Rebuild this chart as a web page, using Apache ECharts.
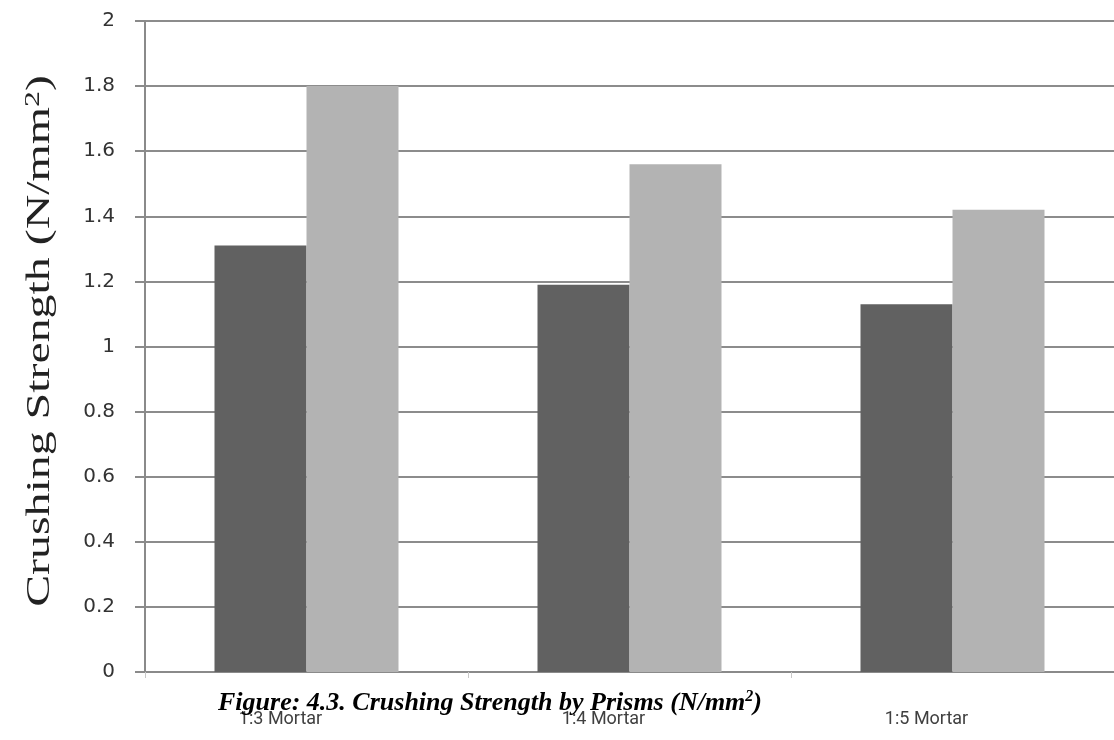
<!DOCTYPE html>
<html><head><meta charset="utf-8">
<script src="https://cdn.jsdelivr.net/npm/echarts@6/dist/echarts.min.js"></script>
<style>html,body{margin:0;padding:0;background:#fff}#c{width:1114px;height:740px}</style>
</head><body><div id="c"></div>
<script>
const categories = ['1:3 Mortar', '1:4 Mortar', '1:5 Mortar'];
const seriesA = [1.31, 1.19, 1.13];
const seriesB = [1.80, 1.56, 1.42];
const yTicks = { min: 0, max: 2, interval: 0.2 };
const yName = 'Crushing Strength (N/mm{sup|2})';
const caption = 'Figure: 4.3. Crushing Strength by Prisms (N/mm{sup|2})';

const chart = echarts.init(document.getElementById('c'), null, { renderer: 'canvas' });
chart.setOption({
  backgroundColor: '#fff',
  animation: false,
  title: {
    text: caption,
    left: 213, top: 684,
    textStyle: {
      fontFamily: 'Liberation Serif', fontStyle: 'italic', fontWeight: 'bold',
      fontSize: 26, color: '#000',
      rich: { sup: { fontFamily: 'Liberation Serif', fontStyle: 'italic', fontWeight: 'bold', fontSize: 16, verticalAlign: 'top', padding: [0, 0, 12, 0], color: '#000' } }
    }
  },
  graphic: [{
    type: 'text', x: 40, y: 341, rotation: Math.PI / 2, scaleX: 1.45, scaleY: 1, z: 10,
    style: {
      text: yName, align: 'center', verticalAlign: 'middle',
      fontFamily: 'Liberation Serif', fontSize: 33, fill: '#222',
      rich: { sup: { fontFamily: 'Liberation Serif', fontSize: 22, fill: '#222', verticalAlign: 'top', padding: [0, 0, 14, 0] } }
    }
  }],
  grid: { left: 145, top: 21, width: 975, height: 651, containLabel: false },
  xAxis: {
    type: 'category', data: categories,
    axisLine: { lineStyle: { color: '#8a8a8a', width: 2 } },
    axisTick: { show: true, length: 6, lineStyle: { color: '#c8c8c8', width: 1 } },
    axisLabel: { fontFamily: 'Roboto', fontSize: 18, color: '#404040', margin: 38, padding: [0, 52, 0, 0] }
  },
  yAxis: {
    type: 'value', min: yTicks.min, max: yTicks.max, interval: yTicks.interval,
    axisLine: { show: true, lineStyle: { color: '#8a8a8a', width: 2 } },
    axisTick: { show: true, length: 10, lineStyle: { color: '#8a8a8a', width: 2 } },
    axisLabel: { fontFamily: 'DejaVu Sans', fontSize: 20, color: '#333', margin: 30,
      formatter: v => String(Math.round(v * 10) / 10) },
    splitLine: { show: true, lineStyle: { color: '#8c8c8c', width: 2 } }
  },
  series: [
    { type: 'bar', data: seriesA, barWidth: 92, barGap: '0%', itemStyle: { color: '#616161' } },
    { type: 'bar', data: seriesB, barWidth: 92, barGap: '0%', itemStyle: { color: '#b3b3b3' } }
  ]
});
</script></body></html>
